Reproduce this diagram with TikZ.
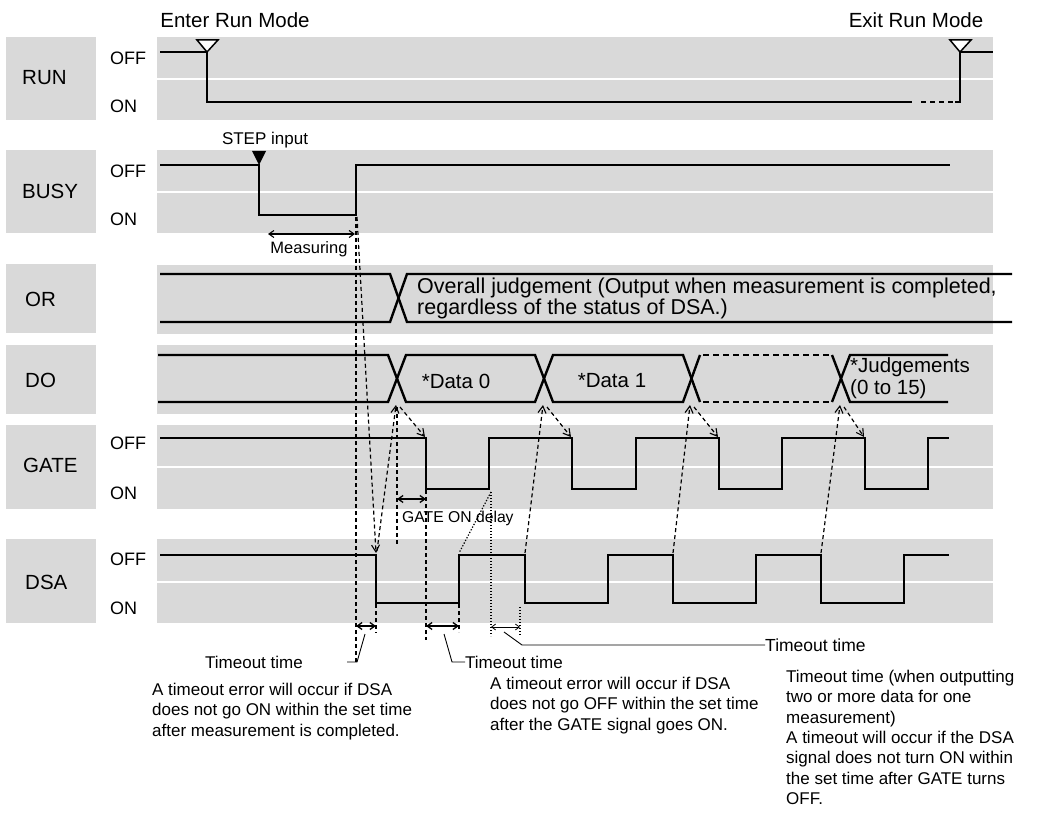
\documentclass[tikz,border=0pt]{standalone}
\usepackage{fontspec}
\setmainfont{Liberation Sans}
\usetikzlibrary{arrows.meta}
\definecolor{bandgray}{RGB}{217,217,217}
\begin{document}
\begin{tikzpicture}[x=1pt,y=-1pt,
  band/.style={fill=bandgray,draw=none},
  divider/.style={white,line width=2pt},
  sig/.style={line width=2.4pt},
  guide/.style={line width=1.2pt,dash pattern=on 4pt off 3pt},
  dotl/.style={line width=1.2pt,dash pattern=on 1.3pt off 1.7pt},
  thinl/.style={line width=0.9pt},
  head/.style={-{Straight Barb[length=7pt,width=8pt,line width=1.1pt]}},
  both/.style={{Straight Barb[length=5pt,width=7pt]}-{Straight Barb[length=5pt,width=7pt]}},
  nm/.style={anchor=west,font=\fontsize{20.5}{24}\selectfont,inner sep=0pt},
  lvl/.style={anchor=west,font=\fontsize{18}{21}\selectfont,inner sep=0pt},
  note/.style={align=left,font=\fontsize{17}{20.3}\selectfont,inner sep=0pt},
  big/.style={font=\fontsize{20.5}{22}\selectfont,inner sep=0pt},
]
\useasboundingbox (0,0) rectangle (1047,818);

% ---------- name boxes ----------
\fill[band] (6,37) rectangle (96,120);
\fill[band] (6,150) rectangle (96,233);
\fill[band] (6,264) rectangle (96,333);
\fill[band] (6,345) rectangle (96,414);
\fill[band] (6,425) rectangle (96,509);
\fill[band] (6,539) rectangle (96,623);
\node[nm] (nRUN)  at (22,78)  {RUN};
\node[nm] (nBUSY) at (22,191) {BUSY};
\node[nm] (nOR)   at (25,299) {OR};
\node[nm] (nDO)   at (25,380) {DO};
\node[nm] (nGATE) at (23,465) {GATE};
\node[nm] (nDSA)  at (25,582) {DSA};

% ---------- signal bands ----------
\fill[band] (157,37) rectangle (993,120);
\fill[band] (157,150) rectangle (993,233);
\fill[band] (157,265) rectangle (993,334);
\fill[band] (157,345) rectangle (993,414);
\fill[band] (157,425) rectangle (993,509);
\fill[band] (157,539) rectangle (993,623);
\draw[divider] (157,79) -- (993,79);
\draw[divider] (157,192) -- (993,192);
\draw[divider] (157,467) -- (993,467);
\draw[divider] (157,582) -- (993,582);

% ---------- level labels ----------
\node[lvl] (runoff)  at (110,58)  {OFF};
\node[lvl] (runon)   at (110,106) {ON};
\node[lvl] (busyoff) at (110,171) {OFF};
\node[lvl] (busyon)  at (110,219) {ON};
\node[lvl] (gateoff) at (110,443) {OFF};
\node[lvl] (gateon)  at (110,493) {ON};
\node[lvl] (dsaoff)  at (110,559) {OFF};
\node[lvl] (dsaon)   at (110,608) {ON};

% ---------- top labels ----------
\node[big] (enter) at (235,20) {Enter Run Mode};
\node[big] (exit)  at (916,20) {Exit Run Mode};
\node[font=\fontsize{17}{20}\selectfont,inner sep=0pt] (step) at (265,140) {STEP input};

% ---------- RUN ----------
\draw[sig] (160,52) -- (207,52) -- (207,102) -- (912,102);
\draw[sig,dash pattern=on 5pt off 4pt] (921,102) -- (959,102);
\draw[sig] (955,102) -- (960,102) -- (960,52) -- (993,52);
\draw[line width=1.5pt,fill=white] (197,40) -- (218,40) -- (207,52) -- cycle;
\draw[line width=1.5pt,fill=white] (950,40) -- (971,40) -- (960,52) -- cycle;

% ---------- BUSY ----------
\draw[sig] (160,165) -- (259,165) -- (259,215) -- (356,215) -- (356,165) -- (950,165);
\fill (252,151) -- (266,151) -- (259,165) -- cycle;

% ---------- OR ----------
\draw[sig] (160,274) -- (390,274) -- (407,322) -- (1012,322);
\draw[sig] (160,322) -- (390,322) -- (407,274) -- (1012,274);
\node[anchor=west,align=left,font=\fontsize{21.5}{19}\selectfont,inner sep=0pt] (ortext) at (417,298)
  {Overall judgement (Output when measurement is completed,\\regardless of the status of DSA.)};

% ---------- DO ----------
\draw[sig] (158,355) -- (388,355) -- (406,402) -- (535,402) -- (553,355) -- (683,355) -- (700,402);
\draw[sig] (158,402) -- (388,402) -- (406,355) -- (535,355) -- (553,402) -- (683,402) -- (700,355);
\draw[sig,dash pattern=on 6pt off 4pt] (703,402) -- (830,402);
\draw[sig,dash pattern=on 6pt off 4pt] (703,355) -- (830,355);
\draw[sig] (832,402) -- (850,355) -- (948,355);
\draw[sig] (832,355) -- (850,402) -- (948,402);
\node[big] (d0) at (456,381) {*Data 0};
\node[big] (d1) at (612,381) {*Data 1};
\node[anchor=west,align=left,font=\fontsize{20.5}{22}\selectfont,inner sep=0pt] (dj) at (850,378) {*Judgements\\(0 to 15)};

% ---------- GATE ----------
\draw[sig] (160,438) -- (426,438) -- (426,489) -- (489,489) -- (489,438) -- (572,438) -- (572,489)
  -- (636,489) -- (636,438) -- (719,438) -- (719,489) -- (782,489) -- (782,438) -- (865,438)
  -- (865,489) -- (928,489) -- (928,438) -- (949,438);

% ---------- DSA ----------
\draw[sig] (160,555) -- (376,555) -- (376,603) -- (459,603) -- (459,555) -- (525,555) -- (525,603)
  -- (608,603) -- (608,555) -- (673,555) -- (673,603) -- (756,603) -- (756,555) -- (821,555)
  -- (821,603) -- (904,603) -- (904,555) -- (949,555);

% ---------- named points ----------
\coordinate (busyR) at (357,217);
\coordinate (dsaF1) at (376,553);
\coordinate (dsaF1s) at (377,551);
\coordinate (x1) at (396,405);
\coordinate (x1s) at (400,407);
\coordinate (gF1) at (425,437);
\coordinate (dsaF2) at (525,553);
\coordinate (x2) at (543,405);
\coordinate (x2s) at (547,407);
\coordinate (gF2) at (571,437);
\coordinate (dsaF3) at (673,553);
\coordinate (x3) at (690,405);
\coordinate (x3s) at (694,407);
\coordinate (gF3) at (718,437);
\coordinate (dsaF4) at (821,553);
\coordinate (x4) at (840,405);
\coordinate (x4s) at (844,407);
\coordinate (gF4) at (864,437);
\coordinate (gR1) at (491,492);
\coordinate (dsaR1) at (459,553);

% ---------- guide lines ----------
\draw[guide] (356,217) -- (356,664);
\draw[guide,head] (busyR) -- (dsaF1);
\draw[guide,head] (dsaF1s) -- (x1);
\draw[guide] (397,407) -- (397,545);
\draw[guide,head] (x1s) -- (gF1);
\draw[guide] (426,490) -- (426,640);
\draw[guide] (376,604) -- (376,633);
\draw[guide] (459,604) -- (459,632);
\draw[guide,head] (dsaF2) -- (x2);
\draw[guide,head] (x2s) -- (gF2);
\draw[guide,head] (dsaF3) -- (x3);
\draw[guide,head] (x3s) -- (gF3);
\draw[guide,head] (dsaF4) -- (x4);
\draw[guide,head] (x4s) -- (gF4);
\draw[dotl] (gR1) -- (dsaR1);
\draw[dotl] (491,492) -- (491,636);
\draw[dotl] (520,607) -- (520,636);

% ---------- measure arrows ----------
\draw[line width=1.1pt,both] (268,234) -- (355,234);
\node[font=\fontsize{16.5}{20}\selectfont,inner sep=0pt] (meas) at (309,249) {Measuring};
\draw[line width=1.3pt,both] (397,499) -- (426,499);
\node[anchor=west,font=\fontsize{15.7}{18}\selectfont,inner sep=0pt] (gdelay) at (402,518) {GATE ON delay};
\draw[line width=1.3pt,both] (356,626) -- (376,626);
\draw[line width=1.3pt,both] (426,626) -- (459,626);
\draw[line width=0.8pt,{Straight Barb[length=4pt,width=6pt]}-{Straight Barb[length=4pt,width=6pt]}] (491,627) -- (520,627);

% ---------- leaders and timeout labels ----------
\node[font=\fontsize{17}{20}\selectfont,inner sep=0pt] (to1) at (254,662) {Timeout time};
\node[anchor=west,font=\fontsize{17}{20}\selectfont,inner sep=0pt] (to2) at (465,662) {Timeout time};
\node[anchor=west,font=\fontsize{17.5}{20}\selectfont,inner sep=0pt] (to3) at (765,645) {Timeout time};
\draw[thinl] (365,634) -- (357,662) -- (347,662);
\draw[thinl] (444,634) -- (452,662) -- (to2.west);
\draw[thinl] (504,632) -- (522,645) -- (to3.west);

% ---------- notes ----------
\node[note,anchor=north west] (note1) at (152,683)
  {A timeout error will occur if DSA\\does not go ON within the set time\\after measurement is completed.};
\node[note,anchor=north west] (note2) at (490,677)
  {A timeout error will occur if DSA\\does not go OFF within the set time\\after the GATE signal goes ON.};
\node[note,anchor=north west] (note3) at (786,670)
  {Timeout time (when outputting\\two or more data for one\\measurement)\\A timeout will occur if the DSA\\signal does not turn ON within\\the set time after GATE turns\\OFF.};
\end{tikzpicture}
\end{document}
